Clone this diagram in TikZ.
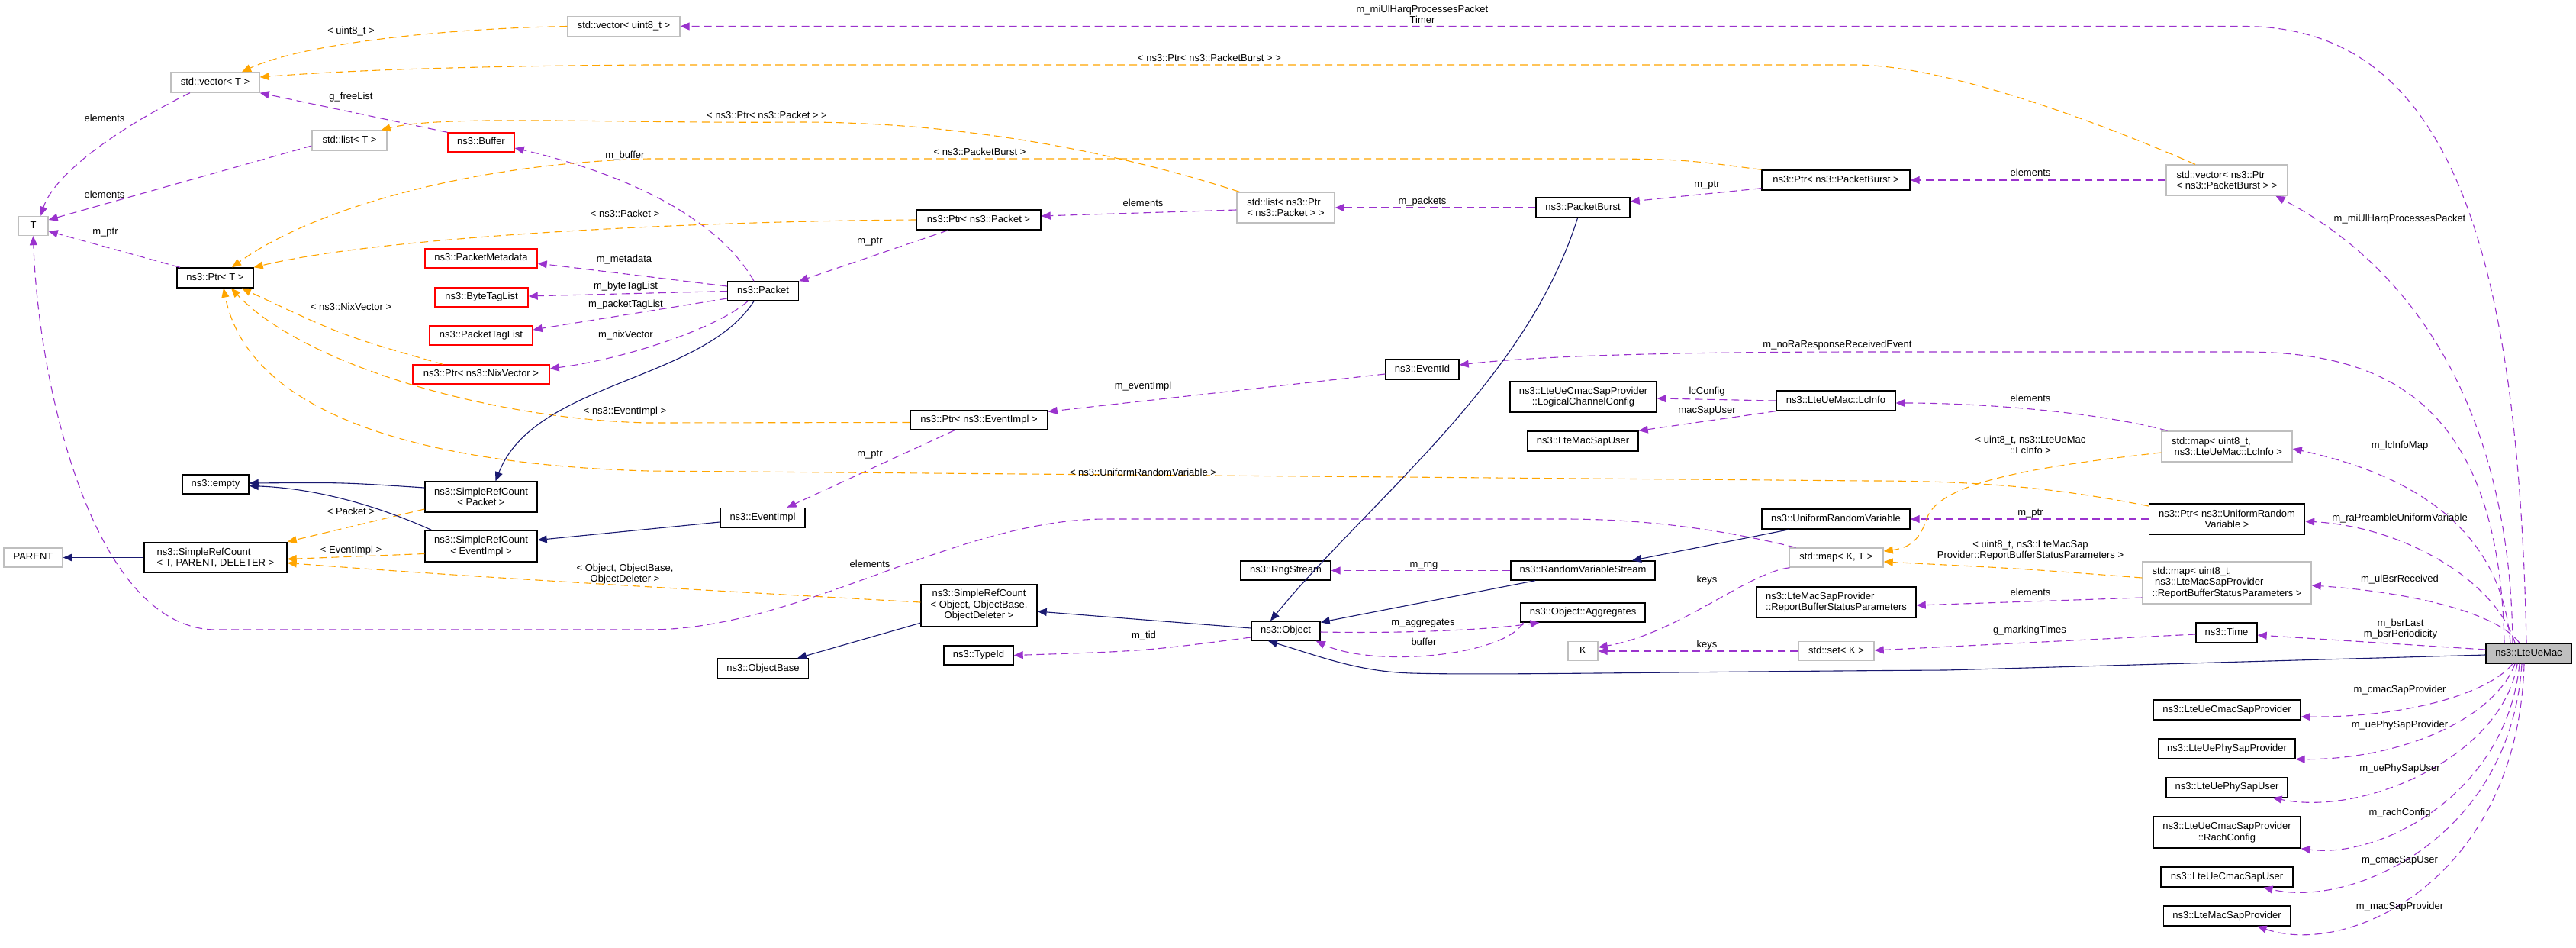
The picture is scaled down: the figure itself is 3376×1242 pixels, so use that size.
\documentclass[tikz,border=0pt]{standalone}
\usepackage{fontspec}
\setmainfont{Liberation Sans}
\usetikzlibrary{arrows.meta}
\definecolor{purp}{HTML}{9A32CD}
\definecolor{orng}{HTML}{FFA500}
\definecolor{navyc}{HTML}{191970}
\definecolor{redc}{HTML}{FF0000}
\definecolor{grayc}{HTML}{BFBFBF}
\newcommand\dxf{\fontsize{13}{14.5}\selectfont}
\tikzset{
  box/.style={draw, line width=1.4, inner sep=0, font=\dxf, text height=9.5, text depth=3},
  mbox/.style={draw, line width=1.4, inner sep=0, font=\dxf, align=center},
  bk/.style={box, draw=black},
  gr/.style={box, draw=grayc},
  rd/.style={box, draw=redc},
  mbk/.style={mbox, draw=black},
  mgr/.style={mbox, draw=grayc},
  usg/.style={draw=purp, line width=1.1, dash pattern=on 10pt off 6pt, -{Triangle[length=12pt,width=10pt]}},
  tmpl/.style={draw=orng, line width=1.1, dash pattern=on 10pt off 6pt, -{Triangle[length=12pt,width=10pt]}},
  inhr/.style={draw=navyc, line width=1.1, -{Triangle[length=12pt,width=10pt]}},
  lbl/.style={font=\dxf, inner sep=0, text height=9.5, text depth=3},
  mlbl/.style={font=\dxf, inner sep=0, align=center},
}
\begin{document}
\begin{tikzpicture}[x=1pt,y=-1pt]
\fill[white] (0,0) rectangle (3376,1242);
\useasboundingbox (0,0) rectangle (3376,1242);

% ---------- nodes ----------
\node[gr, minimum width=147, minimum height=26] (vecU) at (817.5,34.5) {std::vector< uint8\_t >};
\node[gr, minimum width=116, minimum height=26] (vecT) at (282,108) {std::vector< T >};
\node[gr, minimum width=98, minimum height=26] (listT) at (458,184) {std::list< T >};
\node[rd, minimum width=87, minimum height=25] (Buffer) at (630.5,186.5) {ns3::Buffer};
\node[gr, minimum width=39, minimum height=25] (T) at (43.5,296) {T};
\node[bk, minimum width=100, minimum height=26] (PtrT) at (282,364) {ns3::Ptr< T >};
\node[rd, minimum width=147, minimum height=25] (PM) at (630.5,338.5) {ns3::PacketMetadata};
\node[rd, minimum width=122, minimum height=25] (BTL) at (631,389.5) {ns3::ByteTagList};
\node[rd, minimum width=135, minimum height=25] (PTL) at (630.5,439.5) {ns3::PacketTagList};
\node[rd, minimum width=179, minimum height=25] (PtrNix) at (630.5,490.5) {ns3::Ptr< ns3::NixVector >};
\node[bk, minimum width=87, minimum height=25] (empty) at (282.5,634.5) {ns3::empty};
\node[gr, minimum width=77, minimum height=25] (PARENT) at (43.5,730.5) {PARENT};
\node[mbk, align=left, minimum width=187, minimum height=40] (SRCT) at (282.5,730.5) {ns3::SimpleRefCount\\< T, PARENT, DELETER >};
\node[mbk, minimum width=147, minimum height=40] (SRCP) at (630.5,651) {ns3::SimpleRefCount\\< Packet >};
\node[mbk, minimum width=147, minimum height=41] (SRCE) at (630.5,715.5) {ns3::SimpleRefCount\\< EventImpl >};
\node[bk, minimum width=163, minimum height=26] (PtrP) at (1282.5,288) {ns3::Ptr< ns3::Packet >};
\node[bk, minimum width=93, minimum height=25] (Packet) at (1000,381.5) {ns3::Packet};
\node[mgr, align=left, minimum width=128, minimum height=40] (listPP) at (1685,272) {std::list< ns3::Ptr\\< ns3::Packet > >};
\node[bk, minimum width=180, minimum height=25] (PtrEI) at (1283,550.5) {ns3::Ptr< ns3::EventImpl >};
\node[bk, minimum width=111, minimum height=26] (EI) at (999.5,678.5) {ns3::EventImpl};
\node[mbk, minimum width=152, minimum height=55] (SRCO) at (1283,793) {ns3::SimpleRefCount\\< Object, ObjectBase,\\ObjectDeleter >};
\node[bk, minimum width=119, minimum height=26] (OB) at (1000,876) {ns3::ObjectBase};
\node[bk, minimum width=91, minimum height=25] (TypeId) at (1282.5,858.5) {ns3::TypeId};
\node[bk, minimum width=118, minimum height=25] (Rng) at (1685,747.5) {ns3::RngStream};
\node[bk, minimum width=90, minimum height=25] (Obj) at (1685,826.5) {ns3::Object};
\node[bk, minimum width=194, minimum height=26] (PtrPB) at (2406,236) {ns3::Ptr< ns3::PacketBurst >};
\node[bk, minimum width=123, minimum height=26] (PB) at (2074.5,272) {ns3::PacketBurst};
\node[bk, minimum width=96, minimum height=26] (EventId) at (1864,484) {ns3::EventId};
\node[mbk, minimum width=192, minimum height=40] (LCC) at (2075,520) {ns3::LteUeCmacSapProvider\\::LogicalChannelConfig};
\node[bk, minimum width=145, minimum height=26] (LMSU) at (2074.5,578) {ns3::LteMacSapUser};
\node[bk, minimum width=156, minimum height=26] (LcInfo) at (2406,525) {ns3::LteUeMac::LcInfo};
\node[bk, minimum width=194, minimum height=26] (URV) at (2406,680) {ns3::UniformRandomVariable};
\node[bk, minimum width=189, minimum height=25] (RVS) at (2074.5,747.5) {ns3::RandomVariableStream};
\node[gr, minimum width=123, minimum height=25] (mapKT) at (2406.5,730.5) {std::map< K, T >};
\node[mbk, align=left, minimum width=209, minimum height=40] (RBSP) at (2406.5,789) {ns3::LteMacSapProvider\\::ReportBufferStatusParameters};
\node[bk, minimum width=163, minimum height=25] (Agg) at (2074.5,802.5) {ns3::Object::Aggregates};
\node[gr, minimum width=39, minimum height=25] (K) at (2074.5,853) {K};
\node[gr, minimum width=99, minimum height=25] (setK) at (2406.5,853) {std::set< K >};
\node[mgr, align=left, minimum width=159, minimum height=40] (vecPB) at (2918.5,236) {std::vector< ns3::Ptr\\< ns3::PacketBurst > >};
\node[mgr, align=left, minimum width=171, minimum height=40] (mapLc) at (2918.5,585) {std::map< uint8\_t,\\\ ns3::LteUeMac::LcInfo >};
\node[mbk, minimum width=204, minimum height=40] (PtrURV) at (2918.5,680) {ns3::Ptr< ns3::UniformRandom\\Variable >};
\node[mgr, align=left, minimum width=221, minimum height=55] (mapRBSP) at (2918.5,763.5) {std::map< uint8\_t,\\\ ns3::LteMacSapProvider\\::ReportBufferStatusParameters >};
\node[bk, minimum width=80, minimum height=26] (Time) at (2918,829) {ns3::Time};
\node[bk, fill=grayc, minimum width=112, minimum height=26] (mac) at (3314,856) {ns3::LteUeMac};
\node[bk, minimum width=193, minimum height=26] (LUCSP) at (2918.5,930) {ns3::LteUeCmacSapProvider};
\node[bk, minimum width=179, minimum height=26] (LUPSP) at (2918.5,981) {ns3::LteUePhySapProvider};
\node[bk, minimum width=159, minimum height=26] (LUPSU) at (2918.5,1031.5) {ns3::LteUePhySapUser};
\node[mbk, minimum width=193, minimum height=41] (RC) at (2918.5,1090.5) {ns3::LteUeCmacSapProvider\\::RachConfig};
\node[bk, minimum width=173, minimum height=26] (LUCSU) at (2918.5,1149) {ns3::LteUeCmacSapUser};
\node[bk, minimum width=166, minimum height=26] (LMSP) at (2918.5,1200) {ns3::LteMacSapProvider};

% ---------- usage (purple) ----------
\draw[usg] ([xshift=-3]mac.north) .. controls (3300,300) and (3200,34.5) .. (2940,34.5) -- (vecU.east);
\draw[usg] ([xshift=-21]mac.north) .. controls (3290,560) and (3180,360) .. ([xshift=64]vecPB.south);
\draw[usg] (vecPB.west) -- (PtrPB.east);
\draw[usg] ([yshift=3]PtrPB.south west) -- ([yshift=8]PB.east);
\draw[usg] (PB.west) -- (listPP.east);
\draw[usg] ([yshift=-3]listPP.west) -- ([yshift=5]PtrP.east);
\draw[usg] ([xshift=-40]PtrP.south) -- (Packet.north east);
\draw[usg] ([xshift=-12]Packet.north) .. controls (950,300) and (850,235) .. ([yshift=-7.5]Buffer.east);
\draw[usg] ([yshift=6.5]Packet.west) -- ([yshift=-6.5]PM.east);
\draw[usg] (Packet.west) -- ([yshift=1.5]BTL.east);
\draw[usg] ([yshift=-9.5]Packet.west) -- ([yshift=7.5]PTL.east);
\draw[usg] ([xshift=-20]Packet.south) .. controls (940,430) and (820,470) .. ([yshift=7.5]PtrNix.east);
\draw[usg] ([xshift=-46]PtrT.north) -- ([yshift=-7]T.east);
\draw[usg] ([xshift=-33]vecT.south) .. controls (150,170) and (70,230) .. ([xshift=10]T.north);
\draw[usg] ([yshift=-7]listT.west) -- ([yshift=8]T.east);
\draw[usg] (Buffer.north west) -- (vecT.south east);
\draw[usg] ([xshift=-32]mac.north) .. controls (3275,520) and (3120,461) .. (2940,461) -- (2450,461) .. controls (2150,461) and (2000,468) .. ([yshift=6]EventId.east);
\draw[usg] ([yshift=-6]EventId.west) -- ([yshift=-2]PtrEI.north east);
\draw[usg] ([xshift=-32]PtrEI.south) -- ([xshift=32]EI.north);
\draw[usg] (LcInfo.west) -- ([yshift=-2]LCC.east);
\draw[usg] (LcInfo.south west) -- (LMSU.north east);
\draw[usg] ([xshift=-78]mapLc.north) .. controls (2750,540) and (2600,528) .. ([yshift=-3]LcInfo.east);
\draw[usg] ([xshift=-24]mac.north) .. controls (3280,720) and (3200,630) .. ([yshift=-3]mapLc.east);
\draw[usg] ([xshift=-18]mac.north) .. controls (3270,760) and (3150,690) .. ([yshift=-3]PtrURV.east);
\draw[usg] (PtrURV.west) -- (URV.east);
\draw[usg] ([xshift=-12]mac.north) .. controls (3270,800) and (3150,775) .. ([yshift=-3.5]mapRBSP.east);
\draw[usg] ([yshift=-19.5]mapRBSP.west) -- ([yshift=-4]RBSP.east);
\draw[usg] ([yshift=5]mac.west) -- ([yshift=-3]Time.east);
\draw[usg] ([yshift=-2]Time.west) -- ([yshift=1]setK.east);
\draw[usg] (setK.west) -- (K.east);
\draw[usg] ([xshift=-61]mapKT.south) .. controls (2290,750) and (2200,830) .. ([yshift=5]K.east);
\draw[usg] ([xshift=-53]mapKT.north) .. controls (2250,692) and (2150,680) .. (2050,680) -- (1450,680) .. controls (1250,680) and (1050,825) .. (850,825) -- (280,825) .. controls (120,820) and (50,500) .. (T.south);
\draw[usg] ([yshift=-8.5]Obj.west) .. controls (1500,853) .. (TypeId.east);
\draw[usg] (RVS.west) -- (Rng.east);
\draw[usg] ([yshift=-1.5]Obj.east) .. controls (1850,830) and (1950,825) .. ([xshift=-57]Agg.south);
\draw[usg] ([xshift=-78]Agg.south) .. controls (1970,860) and (1800,875) .. ([xshift=-6]Obj.south east);
\draw[usg] ([xshift=-21]mac.south) .. controls (3260,910) and (3150,940) .. ([yshift=-9]LUCSP.east);
\draw[usg] ([xshift=-18]mac.south) .. controls (3270,940) and (3150,995) .. (LUPSP.south east);
\draw[usg] ([xshift=-15]mac.south) .. controls (3280,990) and (3100,1070) .. ([xshift=60]LUPSU.south);
\draw[usg] ([xshift=-12]mac.south) .. controls (3285,1040) and (3120,1125) .. (RC.south east);
\draw[usg] ([xshift=-9]mac.south) .. controls (3290,1100) and (3080,1190) .. ([xshift=48]LUCSU.south);
\draw[usg] ([xshift=-6]mac.south) .. controls (3300,1150) and (3080,1255) .. ([xshift=40]LMSP.south);

% ---------- template (orange) ----------
\draw[tmpl] (vecU.west) .. controls (560,38) and (390,60) .. ([xshift=35]vecT.north);
\draw[tmpl] ([xshift=-41.5]vecPB.north) .. controls (2750,160) and (2550,85) .. (2430,85) -- (850,85) .. controls (550,87) and (420,95) .. ([yshift=7]vecT.east);
\draw[tmpl] ([xshift=4]listPP.north west) .. controls (1450,195) and (1250,160) .. (1050,160) .. controls (800,162) and (580,150) .. ([xshift=-8]listT.north east);
\draw[tmpl] (PtrPB.north west) .. controls (2200,208) .. (2050,208) -- (850,208) .. controls (600,215) and (400,280) .. ([xshift=22]PtrT.north);
\draw[tmpl] (PtrP.west) .. controls (900,290) and (500,310) .. (PtrT.north east);
\draw[tmpl] ([xshift=-50]PtrNix.north) .. controls (450,440) .. ([xshift=35]PtrT.south);
\draw[tmpl] ([yshift=-3]PtrEI.west) -- (850,554) .. controls (650,550) and (400,480) .. ([xshift=21]PtrT.south);
\draw[tmpl] ([yshift=17]PtrURV.west) .. controls (2700,640) and (2600,630) .. (2450,630) -- (850,617) .. controls (600,610) and (330,560) .. ([xshift=11]PtrT.south);
\draw[tmpl] ([yshift=-16]SRCP.west) -- (SRCT.north east);
\draw[tmpl] ([yshift=-10]SRCE.west) -- ([yshift=-2]SRCT.east);
\draw[tmpl] ([yshift=4]SRCO.west) .. controls (900,772) and (600,755) .. ([yshift=-7]SRCT.east);
\draw[tmpl] ([yshift=-8]mapLc.west) .. controls (2680,610) and (2540,630) .. (2525,680) .. controls (2515,710) and (2500,718) .. ([yshift=8.5]mapKT.east);
\draw[tmpl] ([yshift=6.5]mapRBSP.west) .. controls (2650,745) .. ([yshift=-5.5]mapKT.east);

% ---------- inheritance (blue) ----------
\draw[inhr] ([xshift=-12]Packet.south) .. controls (920,500) and (700,500) .. ([xshift=19]SRCP.north);
\draw[inhr] ([yshift=12]SRCP.west) .. controls (450,632) .. ([yshift=1.5]empty.east);
\draw[inhr] ([xshift=9]SRCE.north west) .. controls (500,665) and (420,640) .. ([yshift=-2]empty.east);
\draw[inhr] ([yshift=-5.5]EI.west) -- ([yshift=8]SRCE.east);
\draw[inhr] (SRCT.west) -- (PARENT.east);
\draw[inhr] ([yshift=5]SRCO.south west) -- ([xshift=45]OB.north);
\draw[inhr] ([yshift=3.5]Obj.west) -- ([yshift=-8]SRCO.east);
\draw[inhr] ([xshift=-7]PB.south) .. controls (2000,500) and (1800,650) .. ([xshift=-20]Obj.north);
\draw[inhr] ([xshift=-62.5]RVS.south) -- ([yshift=-2]Obj.north east);
\draw[inhr] ([xshift=-61]URV.south) -- ([xshift=64.5]RVS.north);
\draw[inhr] ([yshift=-2]mac.west) -- (2550,878) .. controls (2200,880) and (1950,885) .. (1850,882) .. controls (1780,880) and (1730,860) .. ([xshift=-23]Obj.south);

% ---------- labels ----------
\node[mlbl] (l1) at (1864,19) {m\_miUlHarqProcessesPacket\\Timer};
\node[lbl] (l2) at (3145,287) {m\_miUlHarqProcessesPacket};
\node[lbl] (l3) at (2661,227) {elements};
\node[lbl] (l4) at (2237,242) {m\_ptr};
\node[lbl] (l5) at (1864,264) {m\_packets};
\node[lbl] (l6) at (1498,267) {elements};
\node[lbl] (l7) at (1140,316) {m\_ptr};
\node[lbl] (l8) at (819,204) {m\_buffer};
\node[lbl] (l9) at (818,340) {m\_metadata};
\node[lbl] (l10) at (820,375) {m\_byteTagList};
\node[lbl] (l11) at (820,399) {m\_packetTagList};
\node[lbl] (l12) at (820,439) {m\_nixVector};
\node[lbl] (l13) at (138,304) {m\_ptr};
\node[lbl] (l14) at (137,156) {elements};
\node[lbl] (l15) at (137,256) {elements};
\node[lbl] (l16) at (460,127) {g\_freeList};
\node[lbl] (l17) at (2408,452) {m\_noRaResponseReceivedEvent};
\node[lbl] (l18) at (1498,506) {m\_eventImpl};
\node[lbl] (l19) at (1140,595) {m\_ptr};
\node[lbl] (l20) at (2237,513) {lcConfig};
\node[lbl] (l21) at (2237,538) {macSapUser};
\node[lbl] (l22) at (2661,523) {elements};
\node[lbl] (l23) at (3145,584) {m\_lcInfoMap};
\node[lbl] (l24) at (3145,679) {m\_raPreambleUniformVariable};
\node[lbl] (l25) at (2661,672) {m\_ptr};
\node[lbl] (l26) at (3145,759) {m\_ulBsrReceived};
\node[lbl] (l27) at (2661,777) {elements};
\node[mlbl] (l28) at (3146,824) {m\_bsrLast\\m\_bsrPeriodicity};
\node[lbl] (l29) at (2660,826) {g\_markingTimes};
\node[lbl] (l30) at (2237,845) {keys};
\node[lbl] (l31) at (2237,760) {keys};
\node[lbl] (l32) at (1140,740) {elements};
\node[lbl] (l33) at (1499,833) {m\_tid};
\node[lbl] (l34) at (1866,740) {m\_rng};
\node[lbl] (l35) at (1865,816) {m\_aggregates};
\node[lbl] (l36) at (1866,842) {buffer};
\node[lbl] (l37) at (3145,904) {m\_cmacSapProvider};
\node[lbl] (l38) at (3145,950) {m\_uePhySapProvider};
\node[lbl] (l39) at (3145,1007) {m\_uePhySapUser};
\node[lbl] (l40) at (3145,1065) {m\_rachConfig};
\node[lbl] (l41) at (3145,1127) {m\_cmacSapUser};
\node[lbl] (l42) at (3145,1188) {m\_macSapProvider};
\node[lbl] (o1) at (460,41) {< uint8\_t >};
\node[lbl] (o2) at (1585,77) {< ns3::Ptr< ns3::PacketBurst > >};
\node[lbl] (o3) at (1005,152) {< ns3::Ptr< ns3::Packet > >};
\node[lbl] (o4) at (1284,200) {< ns3::PacketBurst >};
\node[lbl] (o5) at (819,281) {< ns3::Packet >};
\node[lbl] (o6) at (460,403) {< ns3::NixVector >};
\node[lbl] (o7) at (819,539) {< ns3::EventImpl >};
\node[lbl] (o8) at (1498,620) {< ns3::UniformRandomVariable >};
\node[lbl] (o9) at (460,671) {< Packet >};
\node[lbl] (o10) at (460,721) {< EventImpl >};
\node[mlbl] (o11) at (819,752) {< Object, ObjectBase,\\ObjectDeleter >};
\node[mlbl] (o12) at (2661,583) {< uint8\_t, ns3::LteUeMac\\::LcInfo >};
\node[mlbl] (o13) at (2661,721) {< uint8\_t, ns3::LteMacSap\\Provider::ReportBufferStatusParameters >};
\end{tikzpicture}
\end{document}
